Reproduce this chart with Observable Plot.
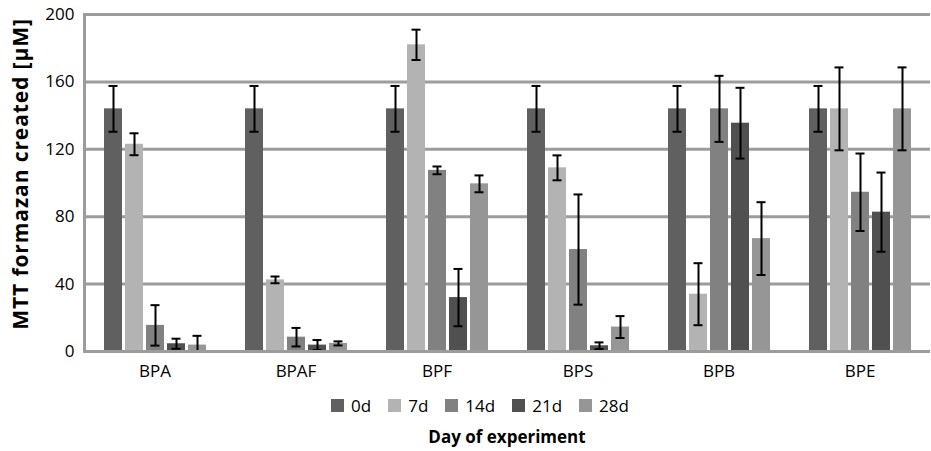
<!DOCTYPE html>
<html><head><meta charset="utf-8">
<script src="https://cdn.jsdelivr.net/npm/d3@7"></script>
<script src="https://cdn.jsdelivr.net/npm/@observablehq/plot@0.6"></script>
<style>
body{margin:0;background:#fff;font-family:"Open Sans",sans-serif;}
#wrap{position:relative;width:931px;height:451px;}
#chart{position:absolute;left:0;top:0;}
#legend{position:absolute;left:29px;width:902px;top:395px;height:20px;display:flex;justify-content:center;align-items:center;font-size:17px;}
.item{display:flex;align-items:center;margin:0 8.5px;}
.sw{width:13px;height:13px;margin-right:7px;}
#xlabel{position:absolute;left:83px;width:848px;top:425px;text-align:center;font-weight:bold;font-size:17px;}
g[aria-label="y-axis label"]{translate:0 -9px;}
g[aria-label="y-axis label"] text{font-weight:bold;font-size:21px;letter-spacing:0.9px;}
</style></head><body>
<div id="wrap"><div id="chart"></div><div id="legend"></div><div id="xlabel">Day of experiment</div></div>
<script>
const groups = ["BPA","BPAF","BPF","BPS","BPB","BPE"];
const series = ["0d","7d","14d","21d","28d"];
const colors = ["#606060","#b3b3b3","#818181","#505050","#969696"];
const yTicks = [0,40,80,120,160,200];
const yTitle = "MTT formazan created [μM]";

const v0d  = [144, 144, 144, 144, 144, 144];
const e0d  = [13.6, 13.6, 13.6, 13.6, 13.6, 13.6];
const v7d  = [123, 42.5, 182, 109, 34, 144];
const e7d  = [6.5, 2, 9, 7.4, 18.4, 24.6];
const v14d = [15.5, 8.5, 107.5, 60.5, 144, 94.5];
const e14d = [12, 5.5, 2.3, 32.7, 19.6, 23];
const v21d = [4.6, 3.8, 32, 3.4, 135.5, 82.7];
const e21d = [3, 3, 17, 2, 21, 23.5];
const v28d = [3.8, 4.8, 99.5, 14.5, 67, 144];
const e28d = [5.5, 1.2, 5, 6.5, 21.6, 24.6];

const vals = [v0d, v7d, v14d, v21d, v28d];
const errs = [e0d, e7d, e14d, e21d, e28d];
const table = [];
groups.forEach((g, gi) => series.forEach((s, si) => {
  const v = vals[si][gi], e = errs[si][gi];
  table.push({group: g, series: s, value: v, lo: Math.max(0, v - e), hi: v + e});
}));

const grid = "#9c9c9c";
const chart = Plot.plot({
  width: 931, height: 392,
  marginLeft: 83, marginRight: 0, marginTop: 14, marginBottom: 41,
  style: {fontFamily: "Open Sans", fontSize: "17px", color: "#000", background: "transparent"},
  fx: {domain: groups, padding: 0, label: null, tickSize: 0, tickPadding: 13},
  x: {domain: series, paddingInner: 0.16, paddingOuter: 0.87, axis: null},
  y: {domain: [0, 200], ticks: yTicks, tickSize: 0, tickPadding: 10,
      label: yTitle, labelAnchor: "center", labelArrow: "none", labelOffset: 71},
  color: {domain: series, range: colors},
  marks: [
    Plot.ruleY(yTicks, {stroke: grid, strokeWidth: 3}),
    Plot.barY(table, {fx: "group", x: "series", y: "value", fill: "series"}),
    Plot.ruleX(table, {fx: "group", x: "series", y1: "lo", y2: "hi", stroke: "#000", strokeWidth: 2}),
    Plot.tickY(table, {fx: "group", x: "series", y: "hi", insetLeft: 4.5, insetRight: 4.5, stroke: "#000", strokeWidth: 2}),
    Plot.tickY(table, {fx: "group", x: "series", y: "lo", insetLeft: 4.5, insetRight: 4.5, stroke: "#000", strokeWidth: 2}),
    Plot.ruleY([0], {stroke: grid, strokeWidth: 3}),
    Plot.frame({anchor: "left", stroke: grid, strokeWidth: 3, facet: "super"})
  ]
});
document.getElementById("chart").appendChild(chart);

const legend = document.getElementById("legend");
series.forEach((s, i) => {
  const it = document.createElement("div");
  it.className = "item";
  it.innerHTML = `<div class="sw" style="background:${colors[i]}"></div><span>${s}</span>`;
  legend.appendChild(it);
});
</script>
</body></html>
